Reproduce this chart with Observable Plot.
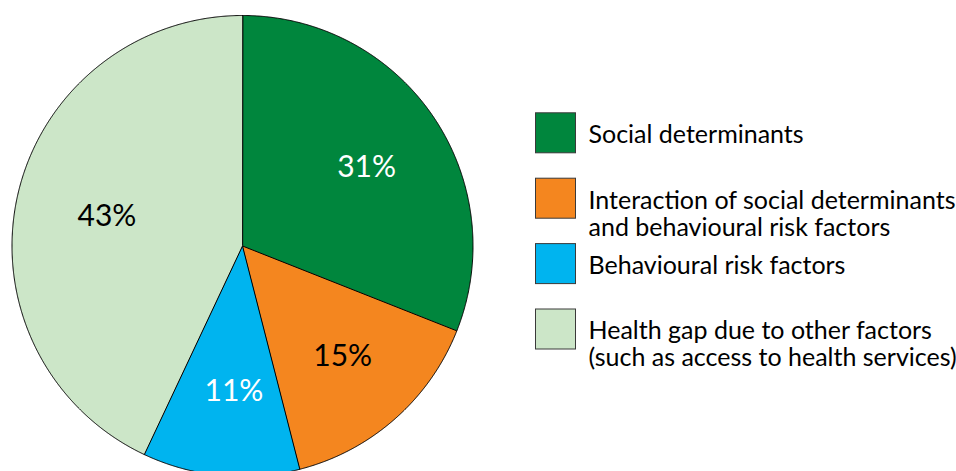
<!DOCTYPE html>
<html><head><meta charset="utf-8">
<script src="https://cdn.jsdelivr.net/npm/d3@7"></script>
<script src="https://cdn.jsdelivr.net/npm/@observablehq/plot@0.6"></script>
<style>html,body{margin:0;padding:0;background:#fff;overflow:hidden}</style>
</head><body><div id="chart"></div>
<script>
// ---- data ----
const categories = [
  "Social determinants",
  "Interaction of social determinants\nand behavioural risk factors",
  "Behavioural risk factors",
  "Health gap due to other factors\n(such as access to health services)"
];
const shares = [31, 15, 11, 43];
const sliceLabels = ["31%", "15%", "11%", "43%"];
const colors = ["#00863d", "#f4861f", "#00b4ef", "#cce6c8"];
const lightLabel = [true, false, true, false];

// ---- layout ----
const W = 956, H = 471;
const cx = 242, cy = 245.5, R = 230.5, labelR = 144;
const legendX = 535.5, legendSize = 40, legendTop = 132.8, legendStep = 65.4, legendTextX = 588;
const legendFont = 25, legendLine = 27, labelFont = 30;
const fontFamily = "Lato, sans-serif";

const arcs = d3.pie().sort(null).value(d => d)(shares);
const slicePts = [];
arcs.forEach((a, i) => {
  slicePts.push({k: categories[i], x: cx, y: cy});
  const n = Math.ceil((a.endAngle - a.startAngle) / 0.004);
  for (let j = 0; j <= n; j++) {
    const t = a.startAngle + (a.endAngle - a.startAngle) * j / n;
    slicePts.push({k: categories[i], x: cx + R * Math.sin(t), y: cy - R * Math.cos(t)});
  }
});
const labels = arcs.map((a, i) => {
  const m = (a.startAngle + a.endAngle) / 2;
  return {text: sliceLabels[i], light: lightLabel[i], x: cx + labelR * Math.sin(m), y: cy - labelR * Math.cos(m)};
});
const legend = categories.map((c, i) => ({cat: c, yc: legendTop + i * legendStep}));

const chart = Plot.plot({
  width: W, height: H,
  margin: 0,
  x: {domain: [0, W], range: [0, W], axis: null},
  y: {domain: [0, H], range: [0, H], axis: null},
  color: {type: "ordinal", domain: categories, range: colors},
  style: {fontFamily, background: "white", color: "black"},
  marks: [
    Plot.line(slicePts, {x: "x", y: "y", z: "k", fill: "k", stroke: "black", strokeWidth: 1, curve: "linear-closed", strokeLinejoin: "round"}),
    Plot.text(labels, {filter: d => d.light, x: "x", y: "y", text: "text", fill: "white", fontSize: labelFont, dx: 5, dy: 2}),
    Plot.text(labels, {filter: d => !d.light, x: "x", y: "y", text: "text", fill: "black", fontSize: labelFont, dx: 5, dy: 2}),
    Plot.rect(legend, {x1: legendX, x2: legendX + legendSize, y1: d => d.yc - legendSize / 2, y2: d => d.yc + legendSize / 2, fill: "cat", stroke: "#3a3a3a", strokeWidth: 1}),
    Plot.text(legend, {x: legendTextX, y: d => d.yc + 8.5 - 0.71 * legendFont, text: "cat", textAnchor: "start", lineAnchor: "top", fontSize: legendFont, lineHeight: legendLine / legendFont, fill: "black"})
  ]
});
document.getElementById("chart").appendChild(chart);
</script>
</body></html>
